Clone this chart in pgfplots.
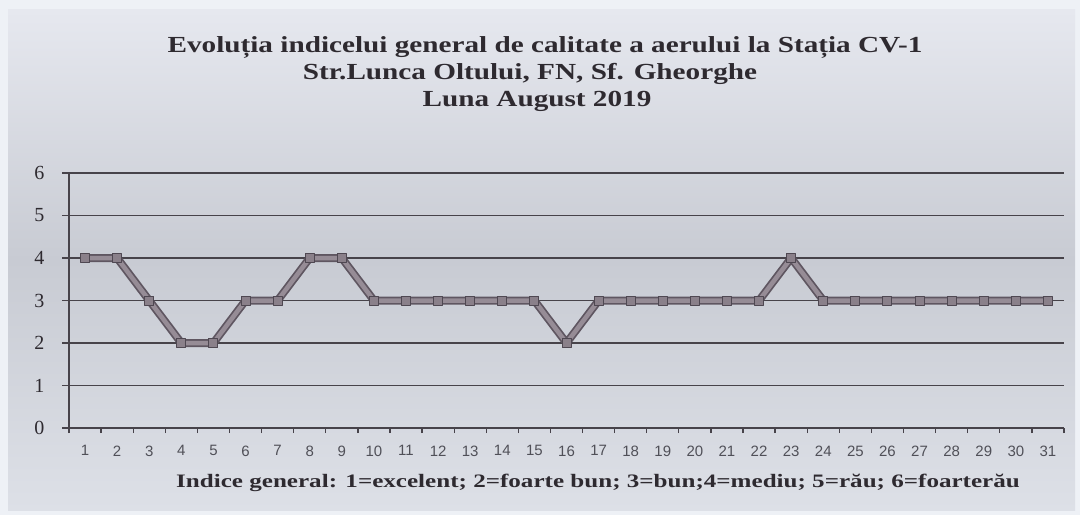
\documentclass[border=0pt]{standalone}
\usepackage{pgfplots}
\pgfplotsset{compat=1.18}
\usepackage{fontspec}
\setmainfont{Liberation Serif}
\setsansfont{Liberation Sans}
\definecolor{outerbg}{HTML}{EEF1F6}
\definecolor{topbg}{HTML}{E6E8EF}
\definecolor{midbg}{HTML}{C8CBD3}
\definecolor{botbg}{HTML}{DDE0E7}
\definecolor{titlec}{HTML}{2E2A30}
\definecolor{gridc}{HTML}{47434A}
\definecolor{xtc}{HTML}{505058}
\definecolor{linedark}{HTML}{5F5661}
\definecolor{linelight}{HTML}{968C96}
\definecolor{markc}{HTML}{8A808A}
\definecolor{markdark}{HTML}{4F4852}
\begin{document}
\begin{tikzpicture}[x=1pt,y=1pt]
\path[fill=outerbg] (0,0) rectangle (1080,515);
\shade[top color=topbg, bottom color=botbg, middle color=midbg] (8,5) rectangle (1075,505);
\begin{scope}[every node/.style={font=\fontsize{23}{23}\selectfont\bfseries, text=titlec, anchor=base, inner sep=0pt}]
\node at (545,462) {\scalebox{1.27}[1]{Evoluția indicelui general de calitate a aerului la Stația CV-1}};
\node at (530,435) {\scalebox{1.27}[1]{Str.Lunca Oltului, FN, Sf. Gheorghe}};
\node at (537,408) {\scalebox{1.27}[1]{Luna August 2019}};
\end{scope}
\begin{axis}[at={(69pt,87pt)}, anchor=south west, scale only axis,
  width=995pt, height=255pt,
  xmin=0.5, xmax=31.5, ymin=0, ymax=6,
  axis x line*=bottom, axis y line*=left,
  axis line style={-, draw=gridc, line width=1.5pt},
  ytick={0,...,6}, ymajorgrids,
  grid style={draw=gridc, line width=1.3pt},
  xtick={1,...,31},
  minor xtick={0.5,1.5,...,31.5},
  tick align=outside,
  major tick length=7pt, minor tick length=5pt,
  major x tick style={draw=none},
  every tick/.style={draw=gridc, line width=1.3pt},
  minor x tick style={draw=gridc, line width=1.3pt},
  /pgf/number format/assume math mode=true,
  yticklabel style={font=\fontsize{20}{20}\selectfont, text=titlec, xshift=-14pt},
  xticklabel style={font=\sffamily\fontsize{15}{15}\selectfont, text=xtc, yshift=-7pt},
  clip=false]
\addplot[draw=linedark, line width=8pt, line join=round] coordinates {
(1,4)(2,4)(3,3)(4,2)(5,2)(6,3)(7,3)(8,4)(9,4)(10,3)(11,3)(12,3)(13,3)(14,3)(15,3)(16,2)
(17,3)(18,3)(19,3)(20,3)(21,3)(22,3)(23,4)(24,3)(25,3)(26,3)(27,3)(28,3)(29,3)(30,3)(31,3)};
\addplot[draw=linelight, line width=4.5pt, line join=round, mark=square*, mark size=4.5pt,
  mark options={fill=markc, draw=markdark, line width=1pt}] coordinates {
(1,4)(2,4)(3,3)(4,2)(5,2)(6,3)(7,3)(8,4)(9,4)(10,3)(11,3)(12,3)(13,3)(14,3)(15,3)(16,2)
(17,3)(18,3)(19,3)(20,3)(21,3)(22,3)(23,4)(24,3)(25,3)(26,3)(27,3)(28,3)(29,3)(30,3)(31,3)};
\end{axis}
\node[font=\fontsize{19}{19}\selectfont\bfseries, text=titlec, anchor=base, inner sep=0pt] at (598,28) {\scalebox{1.32}[1]{Indice general: 1=excelent; 2=foarte bun; 3=bun;4=mediu; 5=rău; 6=foarterău}};
\end{tikzpicture}
\end{document}
